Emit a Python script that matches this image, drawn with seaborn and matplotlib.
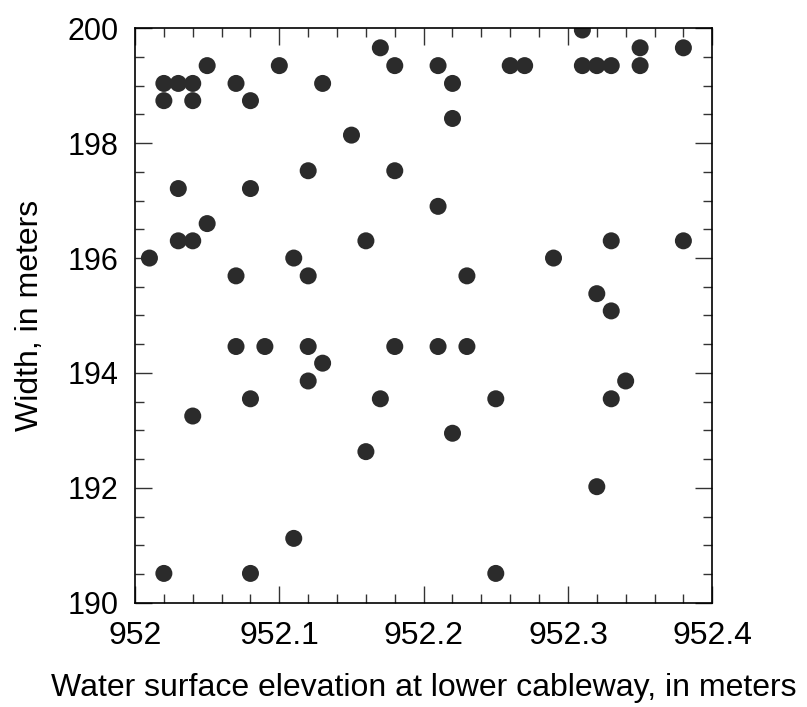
import numpy as np
import pandas as pd
import seaborn as sns
import matplotlib.pyplot as plt
from matplotlib.ticker import MultipleLocator

# elevacion del agua (m) y ancho (m)
elevation = [952.01, 952.02, 952.03, 952.04, 952.02, 952.04, 952.05, 952.07, 952.08,
             952.10, 952.13, 952.17, 952.18, 952.15, 952.12, 952.18, 952.03, 952.08,
             952.05, 952.03, 952.04, 952.16, 952.11, 952.07, 952.12,
             952.31, 952.21, 952.22, 952.22, 952.26, 952.27, 952.31, 952.32, 952.33,
             952.35, 952.35, 952.38, 952.21, 952.33, 952.38, 952.29, 952.23, 952.32,
             952.33,
             952.07, 952.09, 952.12, 952.18, 952.13, 952.12, 952.08, 952.17, 952.04,
             952.16, 952.11, 952.02, 952.08,
             952.21, 952.23, 952.34, 952.25, 952.33, 952.22, 952.32, 952.25]
width = [196.00, 199.04, 199.04, 199.04, 198.74, 198.74, 199.35, 199.04, 198.74,
         199.35, 199.04, 199.66, 199.35, 198.14, 197.52, 197.52, 197.21, 197.21,
         196.60, 196.30, 196.30, 196.30, 196.00, 195.69, 195.69,
         199.97, 199.35, 199.04, 198.43, 199.35, 199.35, 199.35, 199.35, 199.35,
         199.66, 199.35, 199.66, 196.90, 196.30, 196.30, 196.00, 195.69, 195.38,
         195.08,
         194.46, 194.46, 194.46, 194.46, 194.17, 193.86, 193.55, 193.55, 193.25,
         192.63, 191.12, 190.51, 190.51,
         194.46, 194.46, 193.86, 193.55, 193.55, 192.95, 192.02, 190.51]

x_ticks = [952, 952.1, 952.2, 952.3, 952.4]
x_labels = ["952", "952.1", "952.2", "952.3", "952.4"]

df = pd.DataFrame({"elevation": elevation, "width": width})

sns.set_style("ticks")
plt.rcParams["font.family"] = ["Liberation Sans", "DejaVu Sans"]
plt.rcParams["text.color"] = "black"
plt.rcParams["axes.labelcolor"] = "black"
plt.rcParams["xtick.labelcolor"] = "black"
plt.rcParams["ytick.labelcolor"] = "black"

fig = plt.figure(figsize=(8.07, 7.07), dpi=100)
ax = fig.add_axes([0.1673, 0.1475, 0.7153, 0.8125])

sns.scatterplot(data=df, x="elevation", y="width", ax=ax, s=150,
                color="#2b2b2b", edgecolor="none", linewidth=0)

ax.set_xlim(952, 952.4)
ax.set_ylim(190, 200)
ax.xaxis.set_minor_locator(MultipleLocator(0.02))
ax.yaxis.set_major_locator(MultipleLocator(2))
ax.yaxis.set_minor_locator(MultipleLocator(0.5))
ax.set_xticks(x_ticks)
ax.set_xticklabels(x_labels)

for sp in ax.spines.values():
    sp.set_visible(True)
    sp.set_linewidth(1.2)
    sp.set_color("black")

ax.tick_params(which="both", direction="in", top=True, right=True,
               width=1, color="#333333", labelcolor="black")
ax.tick_params(which="major", length=12)
ax.tick_params(which="minor", length=6.5)
ax.tick_params(axis="x", which="major", labelsize=23, pad=13)
ax.tick_params(axis="y", which="major", labelsize=22, pad=12)

ax.set_xlabel("Water surface elevation at lower cableway, in meters",
              fontsize=23, labelpad=16, color="black")
ax.set_ylabel("Width, in meters", fontsize=23, labelpad=16, color="black")

fig.savefig("out.png", dpi=100)
